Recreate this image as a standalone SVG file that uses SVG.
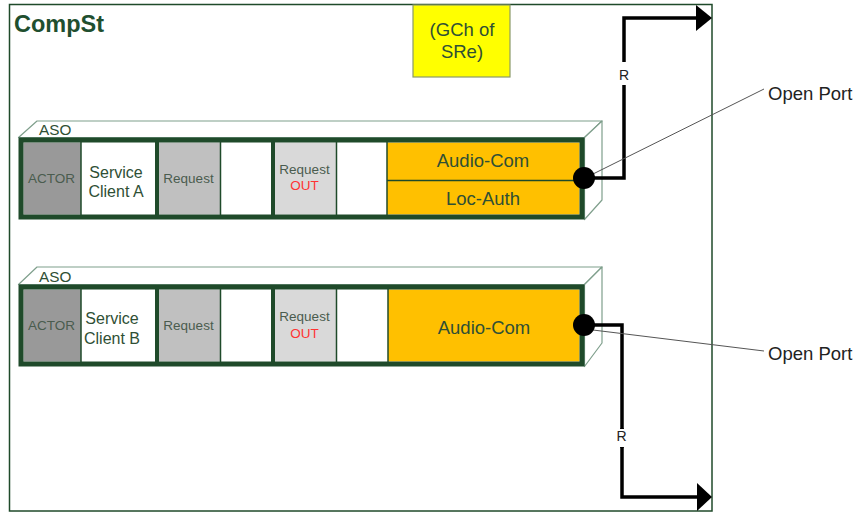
<svg xmlns="http://www.w3.org/2000/svg" width="857" height="513" viewBox="0 0 857 513">
<style>
  text { font-family: "Liberation Sans", Arial, sans-serif; }
  .frame { fill: #ffffff; stroke: #1f4a2a; stroke-width: 1.5; }
  .box3d { fill: #ffffff; stroke: #7f9f8c; stroke-width: 1.2; stroke-linejoin: round; }
  .front { fill: none; stroke: #1f4a2a; stroke-width: 5; }
  .thin { stroke: #1f4a2a; stroke-width: 1.5; }
  .thick { stroke: #1f4a2a; stroke-width: 4; }
  .lbl { fill: #2f4f35; }
  .small { fill: #4a5c4e; font-size: 13.5px; }
  .mid { fill: #2f4f35; font-size: 16px; }
  .big { fill: #2f4f35; font-size: 18.5px; }
  .out { fill: #ff3333; font-size: 13.5px; }
  .conn { fill: none; stroke: #000000; stroke-width: 3.5; }
  .leader { stroke: #555555; stroke-width: 1; fill: none; }
  .port { fill: #000000; }
</style>

<g id="compst">
  <rect class="frame" x="9.5" y="4.5" width="702.5" height="506.5"/>
  <text x="14" y="31.5" font-size="23.5" font-weight="bold" fill="#1f4f2f">CompSt</text>
</g>

<g id="gch">
  <rect x="413" y="5" width="97" height="72" fill="#ffff00" stroke="#8a9a6a" stroke-width="1.2"/>
  <text x="462" y="36" text-anchor="middle" class="big">(GCh of</text>
  <text x="462" y="57.5" text-anchor="middle" class="big">SRe)</text>
</g>

<g id="aso1">
  <path class="box3d" d="M18.5,137.5 L37,121 L602,121 L584.5,137.5 Z"/>
  <path class="box3d" d="M584.5,137.5 L602,121 L602,200 L584.5,219.5 Z"/>
  <text x="39" y="135" font-size="15.3" class="lbl">ASO</text>
  <rect x="23.5" y="142.5" width="57.5" height="72" fill="#999999"/>
  <rect x="81" y="142.5" width="76" height="72" fill="#ffffff"/>
  <rect x="157" y="142.5" width="63" height="72" fill="#c0c0c0"/>
  <rect x="220" y="142.5" width="53" height="72" fill="#ffffff"/>
  <rect x="273" y="142.5" width="63" height="72" fill="#d9d9d9"/>
  <rect x="336" y="142.5" width="51" height="72" fill="#ffffff"/>
  <rect x="387" y="142.5" width="192.5" height="72" fill="#ffc000"/>
  <line class="thin" x1="81" y1="142" x2="81" y2="215"/>
  <line class="thick" x1="157" y1="142" x2="157" y2="215"/>
  <line class="thin" x1="220.5" y1="142" x2="220.5" y2="215"/>
  <line class="thick" x1="273" y1="142" x2="273" y2="215"/>
  <line class="thin" x1="336.5" y1="142" x2="336.5" y2="215"/>
  <line class="thin" x1="387" y1="142" x2="387" y2="215"/>
  <line class="thin" x1="387" y1="180.5" x2="580" y2="180.5"/>
  <rect class="front" x="21" y="140" width="561" height="77"/>
  <text x="51.5" y="182.5" text-anchor="middle" class="small">ACTOR</text>
  <text x="116" y="177.5" text-anchor="middle" class="mid">Service</text>
  <text x="116" y="197" text-anchor="middle" class="mid">Client A</text>
  <text x="188.5" y="182.5" text-anchor="middle" class="small">Request</text>
  <text x="304.5" y="174" text-anchor="middle" class="small">Request</text>
  <text x="304.5" y="190" text-anchor="middle" class="out">OUT</text>
  <text x="483" y="166.5" text-anchor="middle" class="big">Audio-Com</text>
  <text x="483" y="205" text-anchor="middle" class="big">Loc-Auth</text>
</g>

<g id="aso2">
  <path class="box3d" d="M18.5,284.5 L37,267 L602,267 L584.5,284.5 Z"/>
  <path class="box3d" d="M584.5,284.5 L602,267 L602,343 L584.5,366.5 Z"/>
  <text x="39" y="281.5" font-size="15.3" class="lbl">ASO</text>
  <rect x="23.5" y="289.5" width="57.5" height="72" fill="#999999"/>
  <rect x="81" y="289.5" width="76" height="72" fill="#ffffff"/>
  <rect x="157" y="289.5" width="63" height="72" fill="#c0c0c0"/>
  <rect x="220" y="289.5" width="53" height="72" fill="#ffffff"/>
  <rect x="273" y="289.5" width="63" height="72" fill="#d9d9d9"/>
  <rect x="336" y="289.5" width="52" height="72" fill="#ffffff"/>
  <rect x="388" y="289.5" width="191.5" height="72" fill="#ffc000"/>
  <line class="thin" x1="81" y1="289" x2="81" y2="362"/>
  <line class="thick" x1="157" y1="289" x2="157" y2="362"/>
  <line class="thin" x1="220.5" y1="289" x2="220.5" y2="362"/>
  <line class="thick" x1="273" y1="289" x2="273" y2="362"/>
  <line class="thin" x1="336.5" y1="289" x2="336.5" y2="362"/>
  <line class="thin" x1="388" y1="289" x2="388" y2="362"/>
  <rect class="front" x="21" y="287" width="561" height="77"/>
  <text x="51.5" y="330" text-anchor="middle" class="small">ACTOR</text>
  <text x="112" y="324" text-anchor="middle" class="mid">Service</text>
  <text x="112" y="344" text-anchor="middle" class="mid">Client B</text>
  <text x="188.5" y="330" text-anchor="middle" class="small">Request</text>
  <text x="304.5" y="321" text-anchor="middle" class="small">Request</text>
  <text x="304.5" y="337.5" text-anchor="middle" class="out">OUT</text>
  <text x="484" y="333.5" text-anchor="middle" class="big">Audio-Com</text>
</g>

<g id="connectors">
  <path class="conn" d="M584,178 H624 V85"/>
  <path class="conn" d="M624,62 V18 H697"/>
  <polygon points="696,5 712,18 696,31" fill="#000000"/>
  <path class="conn" d="M584,325 H622 V448"/>
  <path class="conn" d="M622,428 V497 H698" />
  <polygon points="697,483 712,497 697,511" fill="#000000"/>
  <line class="leader" x1="593" y1="174" x2="764" y2="89"/>
  <line class="leader" x1="593" y1="330" x2="764" y2="351"/>
</g>

<g id="r-top">
  <rect x="617" y="63" width="14" height="21" fill="#ffffff"/>
  <text x="624" y="80" text-anchor="middle" font-size="14" fill="#222222">R</text>
</g>
<g id="r-bottom">
  <rect x="615" y="429" width="14" height="18" fill="#ffffff"/>
  <text x="621.5" y="441" text-anchor="middle" font-size="14" fill="#222222">R</text>
</g>

<g id="port1"><circle class="port" cx="584" cy="178" r="11"/></g>
<g id="port2"><circle class="port" cx="584" cy="325" r="11"/></g>

<g id="open-port-1"><text x="768" y="99.5" font-size="18.5" fill="#222222">Open Port</text></g>
<g id="open-port-2"><text x="768" y="359.5" font-size="18.5" fill="#222222">Open Port</text></g>
</svg>
